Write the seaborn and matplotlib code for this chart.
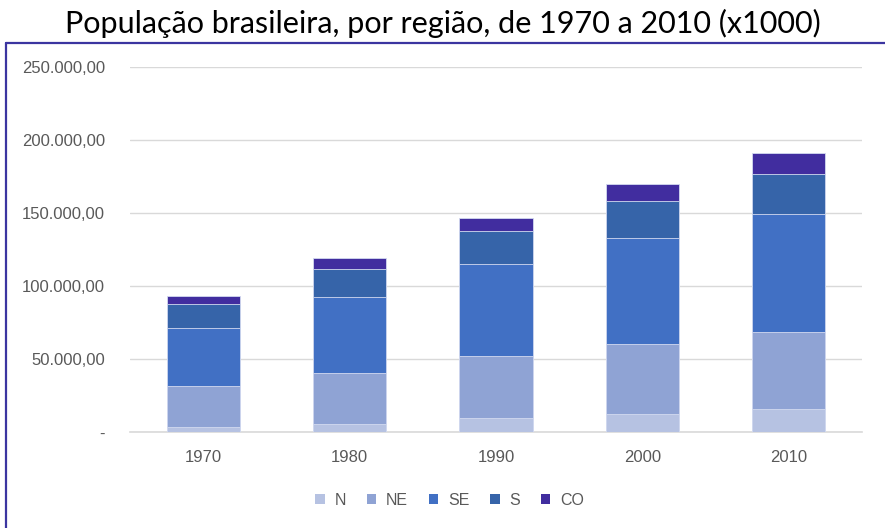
import pandas as pd
import numpy as np
import seaborn as sns
import matplotlib.pyplot as plt
from matplotlib.lines import Line2D
from matplotlib.patches import Patch

anos = ["1970", "1980", "1990", "2000", "2010"]
regioes = ["N", "NE", "SE", "S", "CO"]
norte = [3603, 5880, 10031, 12901, 15864]
nordeste = [28112, 34815, 42497, 47742, 53082]
sudeste = [39853, 51734, 62741, 72412, 80364]
sul = [16497, 19031, 22129, 25108, 27386]
centro_oeste = [5073, 7545, 9427, 11637, 14058]
cores = ["#b6c2e2", "#8fa3d4", "#4170c4", "#3664a9", "#412d9f"]

valores = [norte, nordeste, sudeste, sul, centro_oeste]
acumulado = np.cumsum(np.array(valores), axis=0)

sns.set_style("white")
plt.rcParams["font.family"] = ["Liberation Sans", "DejaVu Sans"]

fig = plt.figure(figsize=(8.85, 5.28), dpi=100)
ax = fig.add_axes([0.147, 0.181, 0.827, 0.693])

# stacked bars: draw the cumulative totals from the top layer down
for i in range(len(regioes) - 1, -1, -1):
    df = pd.DataFrame({"Ano": anos, "Total": acumulado[i]})
    sns.barplot(data=df, x="Ano", y="Total", color=cores[i], width=0.5,
                saturation=1, edgecolor="#d3daf0", linewidth=0.6, ax=ax, zorder=3)

ax.set_ylim(0, 250000)
ax.set_xlim(-0.5, 4.5)
ax.set_yticks(np.arange(0, 250001, 50000))
ax.set_yticklabels(["-"] + [f"{v:,.2f}".replace(",", "X").replace(".", ",").replace("X", ".")
                            for v in np.arange(50000, 250001, 50000)])
ax.yaxis.grid(True, color="#d9d9d9", linewidth=1)
ax.set_axisbelow(True)
for s in ["top", "right", "left"]:
    ax.spines[s].set_visible(False)
ax.spines["bottom"].set_color("#d9d9d9")
ax.spines["bottom"].set_linewidth(1.2)
ax.tick_params(axis="both", length=0, colors="#595959", labelsize=12)
ax.tick_params(axis="y", pad=18)
ax.tick_params(axis="x", pad=13)
ax.set_xlabel("")
ax.set_ylabel("")

handles = [Patch(facecolor=c, edgecolor="none") for c in cores]
leg = fig.legend(handles, regioes, loc="center", bbox_to_anchor=(0.508, 0.053), ncol=5,
                 frameon=False, handlelength=0.6, handleheight=0.6, columnspacing=1.3,
                 handletextpad=0.6, fontsize=11.5)
for t in leg.get_texts():
    t.set_color("#595959")

fig.text(0.5, 0.955, "População brasileira, por região, de 1970 a 2010 (x1000)",
         ha="center", va="center", fontsize=22, color="black",
         family=["Lato", "DejaVu Sans"])

# chart border (only top and left edges visible in the frame)
fig.add_artist(Line2D([0.0065, 1.0], [0.918, 0.918], color="#3b35a0", linewidth=1.6))
fig.add_artist(Line2D([0.0065, 0.0065], [0.0, 0.918], color="#3b35a0", linewidth=1.6))

fig.savefig("out.png", dpi=100)
